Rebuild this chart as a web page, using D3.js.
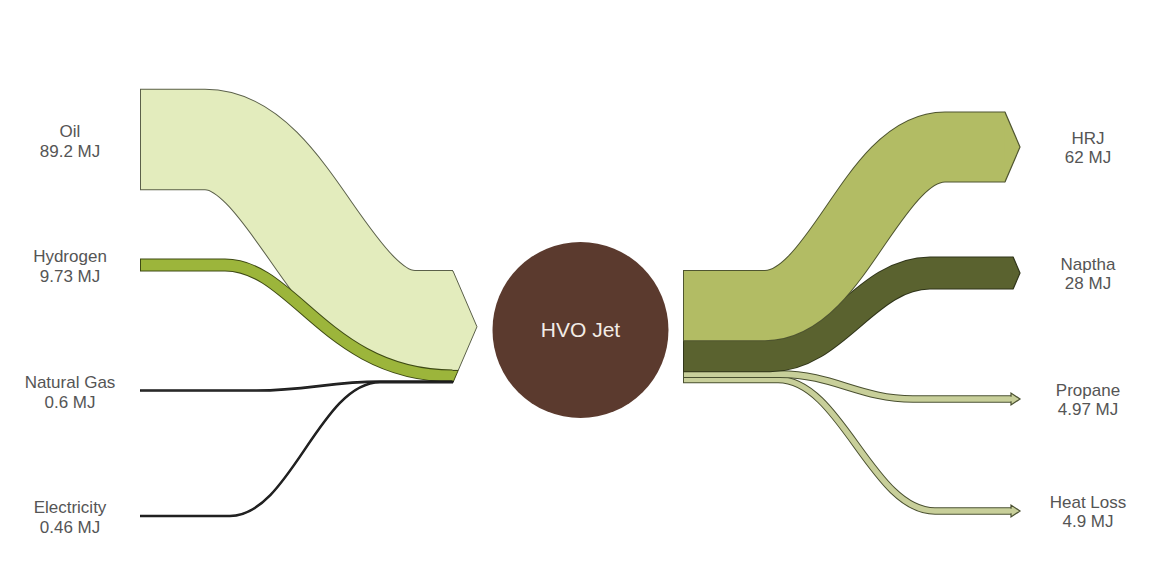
<!DOCTYPE html>
<html>
<head>
<meta charset="utf-8">
<script src="https://cdn.jsdelivr.net/npm/d3@7"></script>
<style>
  body { margin: 0; background: #fff; }
  text { font-family: "Liberation Sans", Arial, sans-serif; }
</style>
</head>
<body>
<div id="chart"></div>
<script>
// Energy in / out of the HVO Jet process (MJ)
const inputs = ["Oil", "Hydrogen", "Natural Gas", "Electricity"];
const inputValues = [89.2, 9.73, 0.6, 0.46];
const outputs = ["HRJ", "Naptha", "Propane", "Heat Loss"];
const outputValues = [62, 28, 4.97, 4.9];
const hub = "HVO Jet";

// colours
const inputFill = ["#e3ecbd", "#9cb53b", "#333333", "#333333"];
const inputEdge = ["#5b604a", "#3e4a14", "#1a1a1a", "#1a1a1a"];
const outputFill = ["#b2bc64", "#5a622f", "#c8cf9a", "#c8cf9a"];
const outputEdge = ["#4f5530", "#30351a", "#4a5030", "#4a5030"];

const width = 1149, height = 579;
const svg = d3.select("#chart").append("svg")
    .attr("width", width)
    .attr("height", height);

// band thickness from energy
const thick = d3.scaleLinear().domain([0, d3.sum(inputValues)]).range([0, 111.5]);

// rows of the nodes
const leftY = d3.scalePoint().domain(inputs).range([139.5, 516]);
const rightY = d3.scaleLinear().domain([0, 2, 3]).range([147, 399, 511]);

const bundleTop = 271;
const leftX0 = 141, leftX1 = 453;
const rightX0 = 684, arrowTip = 1020;
const arrowK = 0.215; // chevron length per px of width

// where each band bends: start x, end x, and control handle fractions (layout)
const leftBend = [[205, 415, 0.4, 0.4], [225, 453, 0.3, 0.55], [257, 380, 0.4, 0.4], [230, 380, 0.4, 0.4]];
const rightBend = [[765, 945, 0.4, 0.4], [770, 930, 0.4, 0.4], [780, 913, 0.4, 0.4], [778, 935, 0.4, 0.4]];

function bandPath(x0, y0, bend, y1, x1) {
    const p = d3.path();
    const [xa, xb, c0, c1] = bend;
    const dx = xb - xa;
    p.moveTo(x0, y0);
    p.lineTo(xa, y0);
    p.bezierCurveTo(xa + dx * c0, y0, xb - dx * c1, y1, xb, y1);
    p.lineTo(x1, y1);
    return p.toString();
}

function drawBand(g, d) {
    // dark outline first, slightly wider, then the fill on top
    g.append("path")
        .attr("d", bandPath(d.x0 - 1, d.y0, d.bend, d.y1, d.x1))
        .attr("fill", "none")
        .attr("stroke", d.edge)
        .attr("stroke-width", d.w + 2);
    g.append("path")
        .attr("d", bandPath(d.x0, d.y0, d.bend, d.y1, d.x1))
        .attr("fill", "none")
        .attr("stroke", d.fill)
        .attr("stroke-width", d.w);
}

// ---- left side: inputs converge into one arrow ----
let acc = bundleTop;
const leftBands = inputs.map((name, i) => {
    const w = thick(inputValues[i]);
    const top = acc;
    acc += w;
    return {
        name: name, value: inputValues[i], w: w,
        x0: leftX0, y0: leftY(name), bend: leftBend[i],
        y1: top + w / 2, x1: leftX1, top: top, bottom: top + w,
        fill: inputFill[i], edge: inputEdge[i]
    };
});
const leftBottom = acc;
const leftMid = (bundleTop + leftBottom) / 2;
const leftLen = arrowK * (leftBottom - bundleTop);

const gl = svg.append("g");
leftBands.forEach(d => drawBand(gl, d));

// chevron head shared by the whole bundle
function edgeX(y) {
    return leftX1 + leftLen * (1 - Math.abs(y - leftMid) / ((leftBottom - bundleTop) / 2));
}
leftBands.forEach(d => {
    const p = d3.path();
    p.moveTo(leftX1 - 0.5, d.top);
    p.lineTo(edgeX(d.top), d.top);
    if (d.top < leftMid && d.bottom > leftMid) p.lineTo(leftX1 + leftLen, leftMid);
    p.lineTo(edgeX(d.bottom), d.bottom);
    p.lineTo(leftX1 - 0.5, d.bottom);
    gl.append("path")
        .attr("d", p.toString())
        .attr("fill", d.fill)
        .attr("stroke", d.edge)
        .attr("stroke-width", 1)
        .attr("stroke-linejoin", "miter");
});

// ---- right side: outputs leave the hub ----
acc = bundleTop;
const rightBands = outputs.map((name, i) => {
    const w = thick(outputValues[i]);
    const top = acc;
    acc += w;
    const thin = w < 10;
    return {
        name: name, value: outputValues[i], w: w, thin: thin,
        x0: rightX0, y0: top + w / 2, bend: rightBend[i],
        y1: rightY(i), x1: thin ? arrowTip - 9 : arrowTip - arrowK * w,
        fill: outputFill[i], edge: outputEdge[i]
    };
});

const gr = svg.append("g");
rightBands.slice().reverse().forEach(d => {
    drawBand(gr, d);
    const p = d3.path();
    if (d.thin) {
        const h = 6;
        p.moveTo(d.x1 - 0.5, d.y1 - d.w / 2);
        p.lineTo(d.x1, d.y1 - d.w / 2);
        p.lineTo(d.x1, d.y1 - h);
        p.lineTo(arrowTip, d.y1);
        p.lineTo(d.x1, d.y1 + h);
        p.lineTo(d.x1, d.y1 + d.w / 2);
        p.lineTo(d.x1 - 0.5, d.y1 + d.w / 2);
    } else {
        p.moveTo(d.x1 - 0.5, d.y1 - d.w / 2);
        p.lineTo(d.x1, d.y1 - d.w / 2);
        p.lineTo(arrowTip, d.y1);
        p.lineTo(d.x1, d.y1 + d.w / 2);
        p.lineTo(d.x1 - 0.5, d.y1 + d.w / 2);
    }
    gr.append("path")
        .attr("d", p.toString())
        .attr("fill", d.fill)
        .attr("stroke", d.edge)
        .attr("stroke-width", 1.2);
});

// ---- hub ----
const hubX = (leftX1 + leftLen + rightX0) / 2;
svg.append("circle")
    .attr("cx", hubX)
    .attr("cy", 330)
    .attr("r", 88)
    .attr("fill", "#5b3a2e");
svg.append("text")
    .attr("x", hubX)
    .attr("y", 337)
    .attr("text-anchor", "middle")
    .attr("font-size", 21)
    .attr("fill", "#f3ece6")
    .text(hub);

// ---- labels ----
const fmt = v => v + " MJ";
const leftLab = svg.append("g").attr("font-size", 17).attr("fill", "#555").attr("text-anchor", "middle");
leftBands.forEach(d => {
    leftLab.append("text").attr("x", 70).attr("y", d.y0 - 3).text(d.name);
    leftLab.append("text").attr("x", 70).attr("y", d.y0 + 17).text(fmt(d.value));
});
const rightLab = svg.append("g").attr("font-size", 17).attr("fill", "#555").attr("text-anchor", "middle");
rightBands.forEach(d => {
    rightLab.append("text").attr("x", 1088).attr("y", d.y1 - 3).text(d.name);
    rightLab.append("text").attr("x", 1088).attr("y", d.y1 + 16).text(fmt(d.value));
});
</script>
</body>
</html>
